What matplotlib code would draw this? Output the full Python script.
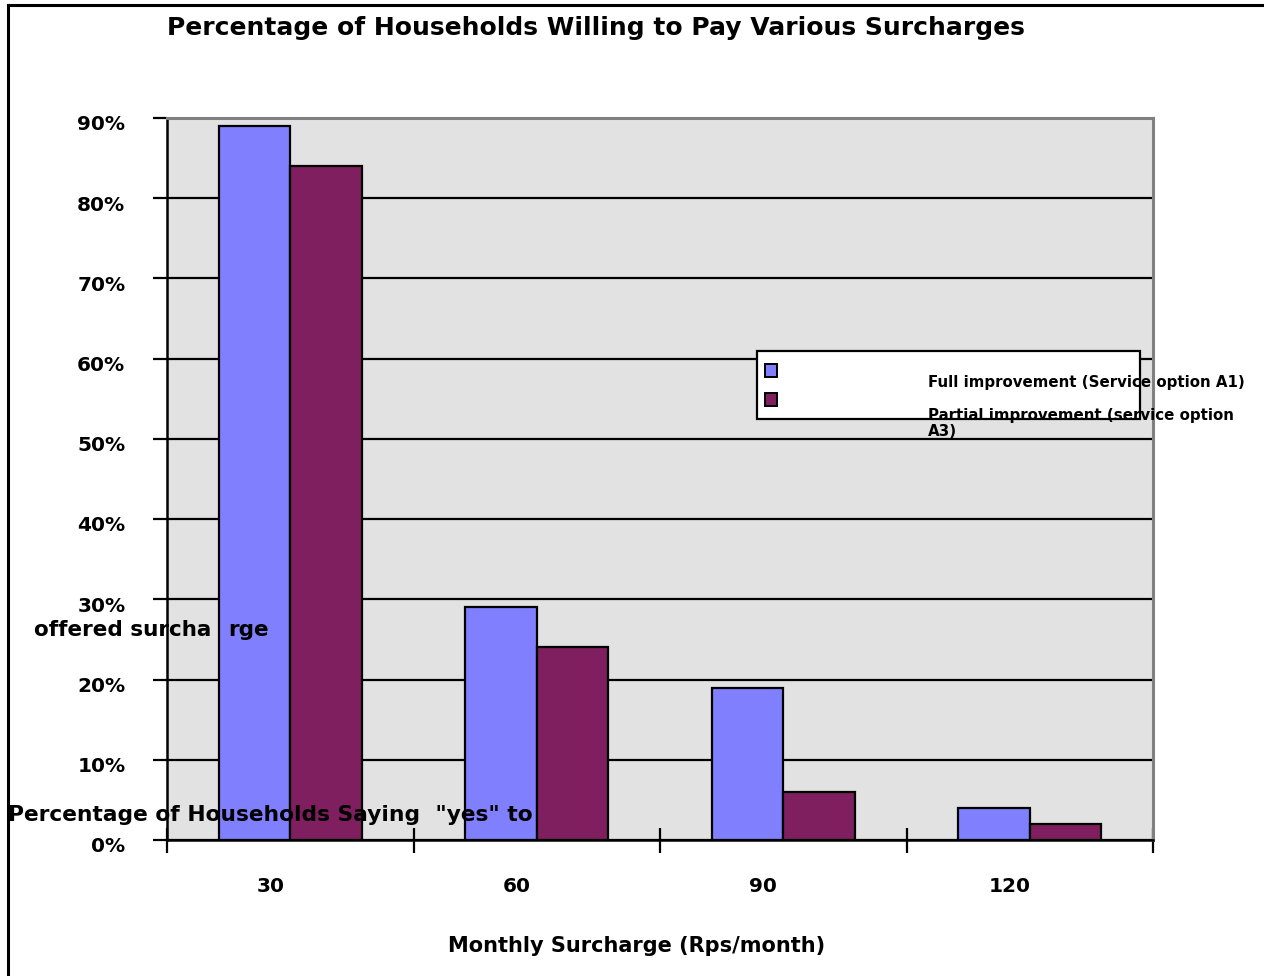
import matplotlib
matplotlib.use("Agg")
import matplotlib.pyplot as plt
from matplotlib.lines import Line2D
from matplotlib.patches import Rectangle
import matplotlib.transforms as mtransforms

# Survey results: share of households accepting each monthly surcharge
surcharges = ["30", "60", "90", "120"]
full_improvement = [89, 29, 19, 4]      # Service option A1
partial_improvement = [84, 24, 6, 2]    # Service option A3
y_ticks = [0, 10, 20, 30, 40, 50, 60, 70, 80, 90]
y_tick_labels = ["0%", "10%", "20%", "30%", "40%", "50%", "60%", "70%", "80%", "90%"]
series_names = ["Full improvement (Service option A1)",
                "Partial improvement (service option\nA3)"]

title = "Percentage of Households Willing to Pay Various Surcharges"
x_label = "Monthly Surcharge (Rps/month)"
y_label_line1 = "Percentage of Households Saying  \"yes\" to"
y_label_line2 = ("offered surcha", "rge")

BLUE = "#8080FF"
MAROON = "#7F1F5F"
FONT = "DejaVu Sans"

W, H = 1264, 976
fig = plt.figure(figsize=(W / 100, H / 100), dpi=100)
fig.patch.set_facecolor("white")

ax = fig.add_axes([167 / W, 1 - 840 / H, (1153 - 167) / W, (840 - 118) / H])
ax.set_facecolor("#E2E2E2")

n = len(surcharges)
xs = list(range(n))
bw = 0.29
ax.bar([x - bw / 2 for x in xs], full_improvement, width=bw, color=BLUE,
       edgecolor="black", linewidth=1.6, zorder=3)
ax.bar([x + bw / 2 for x in xs], partial_improvement, width=bw, color=MAROON,
       edgecolor="black", linewidth=1.6, zorder=3)

ax.set_xlim(-0.5, n - 0.5)
ax.set_ylim(0, 90)

# horizontal gridlines and percentage labels
ax.set_yticks(y_ticks)
ax.set_yticklabels(y_tick_labels, fontfamily=FONT, fontweight="bold", fontsize=14.5)
ax.yaxis.grid(True, color="black", linewidth=1.6)
ax.set_axisbelow(True)
ax.tick_params(axis="y", direction="out", length=10, width=1.6, pad=20)
down = mtransforms.ScaledTranslation(0, -3.5 / 72, fig.dpi_scale_trans)
for lbl in ax.get_yticklabels():
    lbl.set_transform(lbl.get_transform() + down)

# category boundary ticks crossing the x axis
ax.set_xticks([x - 0.5 for x in range(n + 1)])
ax.set_xticklabels([])
ax.tick_params(axis="x", direction="inout", length=18, width=1.6)
trans = mtransforms.blended_transform_factory(ax.transData, ax.transAxes)
left_shift = mtransforms.ScaledTranslation(-20 / 100, 0, fig.dpi_scale_trans)
for x, s in zip(xs, surcharges):
    ax.text(x, -46 / 722, s, transform=trans + left_shift, ha="center", va="center",
            fontfamily=FONT, fontweight="bold", fontsize=14.5)

for side in ["left", "bottom"]:
    ax.spines[side].set_color("black")
    ax.spines[side].set_linewidth(1.8)
for side in ["top", "right"]:
    ax.spines[side].set_color("#808080")
    ax.spines[side].set_linewidth(2.2)

# titles
fig.text(596 / W, 1 - 28 / H, title, ha="center", va="center",
         fontfamily=FONT, fontweight="bold", fontsize=18)
fig.text(637 / W, 1 - 946 / H, x_label, ha="center", va="center",
         fontfamily=FONT, fontweight="bold", fontsize=15)
fig.text(533 / W, 1 - 815 / H, y_label_line1, ha="right", va="center",
         fontfamily=FONT, fontweight="bold", fontsize=15.7)
fig.text(211 / W, 1 - 630 / H, y_label_line2[0], ha="right", va="center",
         fontfamily=FONT, fontweight="bold", fontsize=15.5)
fig.text(228 / W, 1 - 630 / H, y_label_line2[1], ha="left", va="center",
         fontfamily=FONT, fontweight="bold", fontsize=15.5)

# legend box
fig.add_artist(Rectangle((757 / W, 1 - 419 / H), (1140 - 757) / W, (419 - 351) / H,
                         transform=fig.transFigure, facecolor="white",
                         edgecolor="black", linewidth=1.6, zorder=5))
for ypix, color in [(371, BLUE), (400, MAROON)]:
    fig.add_artist(Rectangle((765 / W, 1 - (ypix + 6) / H), 12 / W, 13 / H,
                             transform=fig.transFigure, facecolor=color,
                             edgecolor="black", linewidth=1.4, zorder=6))
fig.text(928 / W, 1 - 383 / H, series_names[0], ha="left", va="center",
         fontfamily=FONT, fontweight="bold", fontsize=10.8, zorder=7)
fig.text(928 / W, 1 - 408 / H, series_names[1], ha="left", va="top",
         fontfamily=FONT, fontweight="bold", fontsize=10.8, zorder=7,
         linespacing=1.1)

# outer frame (top and left edges)
fig.add_artist(Line2D([8 / W, 1], [1 - 5 / H, 1 - 5 / H], transform=fig.transFigure,
                      color="black", linewidth=2.2))
fig.add_artist(Line2D([8 / W, 8 / W], [0, 1 - 5 / H], transform=fig.transFigure,
                      color="black", linewidth=2.2))

fig.savefig("out.png", dpi=100)
